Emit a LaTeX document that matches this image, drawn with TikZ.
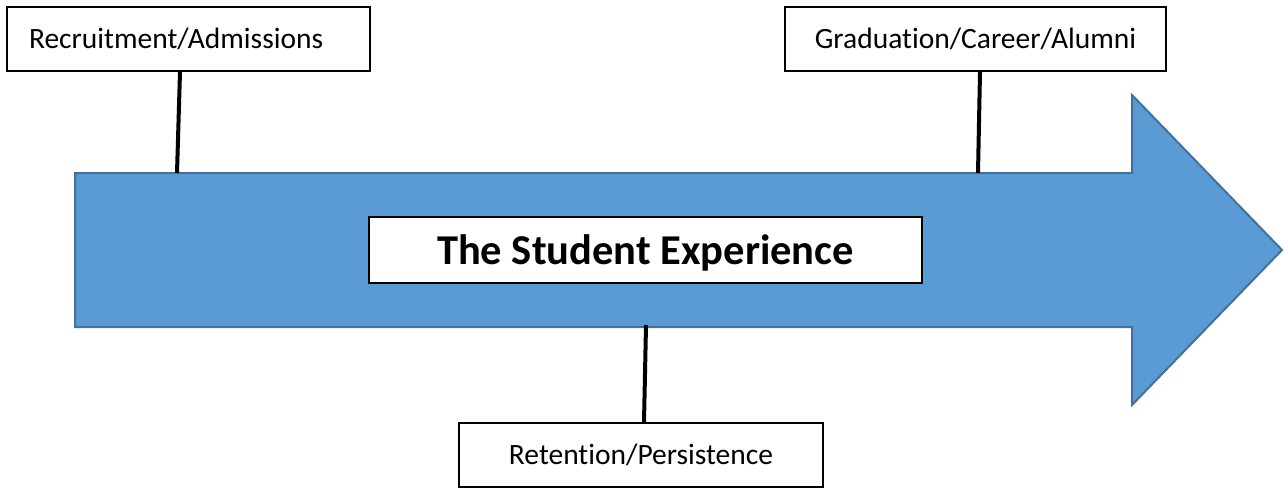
\documentclass[tikz,border=0pt]{standalone}
\usepackage{fontspec}
\setmainfont[Ligatures={TeX,NoCommon}]{Carlito}
\usepackage{xcolor}
\usetikzlibrary{positioning}

\definecolor{arrowblue}{HTML}{5B9BD5}
\definecolor{arrowedge}{HTML}{41719C}

\begin{document}
\begin{tikzpicture}[
x=1pt, y=-1pt,
stage/.style={rectangle, draw, line width=2pt, fill=white, minimum height=64pt, font=\fontsize{29.5}{35}\selectfont},
title/.style={rectangle, draw, line width=1.5pt, fill=white, minimum width=553pt, minimum height=66pt, text depth=0pt, font=\fontsize{42.5}{50}\selectfont\bfseries},
link/.style={line width=4pt}
]
\useasboundingbox (0,0) rectangle (1284,487);

% the big arrow
\draw[fill=arrowblue, draw=arrowedge, line width=2pt]
  (75,173) -- (1132,173) -- (1132,95) -- (1282,250) -- (1132,405) -- (1132,327) -- (75,327) -- cycle;
\coordinate (top1) at (177,173);
\coordinate (top2) at (978,173);
\coordinate (bottom) at (646,325);

\node[title] (experience) at (645.5,250) {The Student Experience};

\node[stage, text width=319pt, inner xsep=22pt, align=left] (recruit) at (188.5,39) {Recruitment/Admissions};
\node[stage, minimum width=381pt] (grad) at (975.5,39) {Graduation/Career/Alumni};
\node[stage, minimum width=364pt] (retain) at (641,455) {Retention/Persistence};

\draw[link] (recruit.south -| 180,0) -- (top1);
\draw[link] (grad.south -| 980,0) -- (top2);
\draw[link] (bottom) -- (retain.north -| 644,0);

\end{tikzpicture}
\end{document}
